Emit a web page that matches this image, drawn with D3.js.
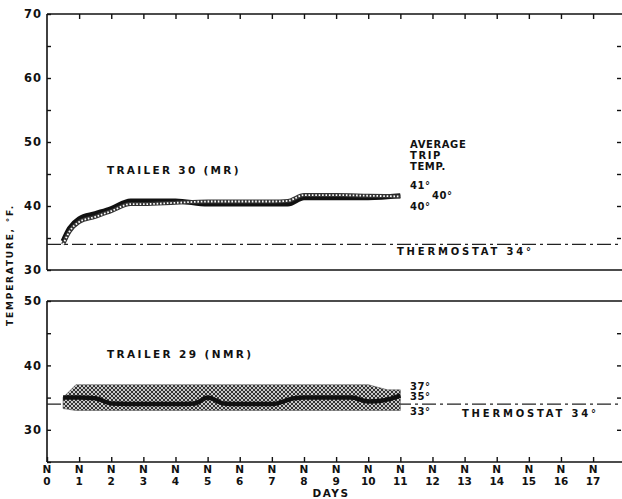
<!DOCTYPE html>
<html>
<head>
<meta charset="utf-8">
<script src="https://cdn.jsdelivr.net/npm/d3@7"></script>
<style>
  body { margin: 0; background: #fff; }
  text { font-family: "DejaVu Sans", sans-serif; font-weight: bold; fill: #111; }
</style>
</head>
<body>
<div id="chart"><svg></svg></div>
<script>
var width = 622, height = 499;

// trailer 30 (MR) - average line and dotted companion line
var mrDays   = [0.5, 0.7, 1, 1.5, 2, 2.6, 3, 4, 5, 6, 7, 7.5, 8, 9, 10, 11];
var mrAvg    = [34.5, 36.5, 38, 38.8, 39.6, 40.8, 40.8, 40.8, 40.3, 40.3, 40.3, 40.3, 41.3, 41.3, 41.3, 41.6];
var mrDotted = [34, 36, 37.5, 38.3, 39.2, 40.3, 40.3, 40.5, 40.7, 40.7, 40.7, 40.8, 41.7, 41.7, 41.6, 41.5];

// trailer 29 (NMR) - average line and range band
var nmrDays = [0.5, 1, 1.5, 2, 3, 4, 4.6, 5, 5.5, 6, 7, 7.7, 8, 9, 9.5, 10, 10.5, 11];
var nmrAvg  = [35, 35, 34.9, 34.1, 34, 34, 34.1, 35, 34.1, 34, 34, 34.9, 35, 35, 35, 34.4, 34.6, 35.3];
var bandDays = [0.5, 0.9, 10, 10.6, 11];
var bandHigh = [35, 37, 37, 36.2, 36.2];
var bandLow  = [33.3, 33, 33, 33, 33];

var thermostat = 34;
var dayTicks = d3.range(0, 18);
var mrLabels = ["41°", "40°", "40°"];
var nmrLabels = ["37°", "35°", "33°"];

var svg = d3.select("#chart").select("svg").attr("width", width).attr("height", height);

var x = d3.scaleLinear().domain([0, 17.9]).range([47, 622]);
var yTop = d3.scaleLinear().domain([30, 70]).range([270, 14]);
var yBot = d3.scaleLinear().domain([25, 50]).range([462, 301]);

// crosshatch pattern
var pat = svg.append("defs").append("pattern")
    .attr("id", "hatch").attr("patternUnits", "userSpaceOnUse")
    .attr("width", 4).attr("height", 4);
pat.append("rect").attr("width", 4).attr("height", 4).attr("fill", "#c8c8c8");
pat.append("path").attr("d", "M0,0L4,4M4,0L0,4").attr("stroke", "#333").attr("stroke-width", 1);

function frame(y, lo, hi, topTicks) {
  var g = svg.append("g");
  g.append("line").attr("x1", x(0)).attr("x2", 622).attr("y1", y(hi)).attr("y2", y(hi)).attr("stroke", "#111").attr("stroke-width", 1.6);
  g.append("line").attr("x1", x(0)).attr("x2", 622).attr("y1", y(lo)).attr("y2", y(lo)).attr("stroke", "#111").attr("stroke-width", 1.6);
  g.append("line").attr("x1", x(0)).attr("x2", x(0)).attr("y1", y(lo)).attr("y2", y(hi)).attr("stroke", "#111").attr("stroke-width", 1.6);

  var left = d3.axisLeft(y).tickValues(d3.range(lo, hi + 1, 5))
      .tickSizeInner(-4).tickSizeOuter(0).tickPadding(5)
      .tickFormat(function(d){ return d % 10 === 0 ? d : ""; });
  var la = svg.append("g").attr("transform", "translate(" + x(0) + ",0)").call(left);
  la.select(".domain").remove();
  la.selectAll("line").attr("stroke", "#111").attr("stroke-width", 1.4);
  la.selectAll("text").style("font-size", "11.5px").style("font-family", "DejaVu Sans").style("letter-spacing", "1px").attr("font-weight", "bold");

  var right = d3.axisRight(y).tickValues(d3.range(lo + 5, hi, 5)).tickSizeInner(-4).tickSizeOuter(0).tickFormat("");
  var ra = svg.append("g").attr("transform", "translate(621,0)").call(right);
  ra.select(".domain").remove();
  ra.selectAll("line").attr("stroke", "#111").attr("stroke-width", 1.4);

  if (topTicks) {
    var top = d3.axisTop(x).tickValues(dayTicks.slice(1)).tickSizeInner(-5).tickSizeOuter(0).tickFormat("");
    var ta = svg.append("g").attr("transform", "translate(0," + y(hi) + ")").call(top);
    ta.select(".domain").remove();
    ta.selectAll("line").attr("stroke", "#111").attr("stroke-width", 1.4);
  }

  svg.append("line").attr("x1", x(0)).attr("x2", 622)
     .attr("y1", y(thermostat)).attr("y2", y(thermostat))
     .attr("stroke", "#222").attr("stroke-width", 1.3)
     .attr("stroke-dasharray", "14,4,3,4");
}

frame(yTop, 30, 70, true);
frame(yBot, 25, 50, false);

// bottom axis
var bottom = d3.axisBottom(x).tickValues(dayTicks).tickSizeInner(-5).tickSizeOuter(0).tickFormat("");
var ba = svg.append("g").attr("transform", "translate(0," + yBot(25) + ")").call(bottom);
ba.select(".domain").remove();
ba.selectAll("line").attr("stroke", "#111").attr("stroke-width", 1.4);
var tl = svg.append("g").selectAll("text").data(dayTicks).enter().append("text")
    .attr("x", function(d){ return x(d); }).attr("text-anchor", "middle").style("font-size", "10.5px");
tl.append("tspan").attr("x", function(d){ return x(d); }).attr("y", 473).text("N");
tl.append("tspan").attr("x", function(d){ return x(d); }).attr("y", 485).text(function(d){ return d; });

svg.append("text").attr("x", 331).attr("y", 497).attr("text-anchor", "middle")
   .style("font-size", "10.5px").style("letter-spacing", "1.5px").text("DAYS");

svg.append("text").attr("transform", "translate(13,265) rotate(-90)").attr("text-anchor", "middle")
   .style("font-size", "9px").style("letter-spacing", "1.8px").text("TEMPERATURE, °F.");

// top panel lines
var lineTop = d3.line().x(function(d){ return x(d[0]); }).y(function(d){ return yTop(d[1]); }).curve(d3.curveMonotoneX);
svg.append("path").datum(d3.zip(mrDays, mrAvg)).attr("d", lineTop)
   .attr("fill", "none").attr("stroke", "#111").attr("stroke-width", 5);
svg.append("path").datum(d3.zip(mrDays, mrDotted)).attr("d", lineTop)
   .attr("fill", "none").attr("stroke", "#333").attr("stroke-width", 4);
svg.append("path").datum(d3.zip(mrDays, mrDotted)).attr("d", lineTop)
   .attr("fill", "none").attr("stroke", "#fff").attr("stroke-width", 1.8).attr("stroke-dasharray", "1.6,1.8");

// bottom panel band and line
var area = d3.area().x(function(d){ return x(d[0]); })
    .y0(function(d){ return yBot(d[2]); }).y1(function(d){ return yBot(d[1]); });
svg.append("path").datum(d3.zip(bandDays, bandHigh, bandLow)).attr("d", area)
   .attr("fill", "url(#hatch)").attr("stroke", "#555").attr("stroke-width", 0.6);
var lineBot = d3.line().x(function(d){ return x(d[0]); }).y(function(d){ return yBot(d[1]); }).curve(d3.curveMonotoneX);
svg.append("path").datum(d3.zip(nmrDays, nmrAvg)).attr("d", lineBot)
   .attr("fill", "none").attr("stroke", "#111").attr("stroke-width", 4.5);

// annotations
function label(tx, ty, s, size, ls) {
  svg.append("text").attr("x", tx).attr("y", ty).style("font-size", size + "px")
     .style("letter-spacing", ls + "px").text(s);
}
label(107, 174, "TRAILER 30 (MR)", 10.5, 2.3);
label(107, 358, "TRAILER 29 (NMR)", 10.5, 2.4);
label(410, 148, "AVERAGE", 10, 0.6);
label(410, 159, "TRIP", 10, 1.6);
label(410, 170, "TEMP.", 10, 0.6);
label(410, 189, mrLabels[0], 10, 0.6);
label(432, 199, mrLabels[1], 10, 0.6);
label(410, 210, mrLabels[2], 10, 0.6);
label(410, 390, nmrLabels[0], 10, 0.6);
label(410, 400, nmrLabels[1], 10, 0.6);
label(410, 415, nmrLabels[2], 10, 0.6);
label(397, 255, "THERMOSTAT 34°", 10, 2.8);
label(462, 417, "THERMOSTAT 34°", 10, 2.8);
</script>
</body>
</html>
